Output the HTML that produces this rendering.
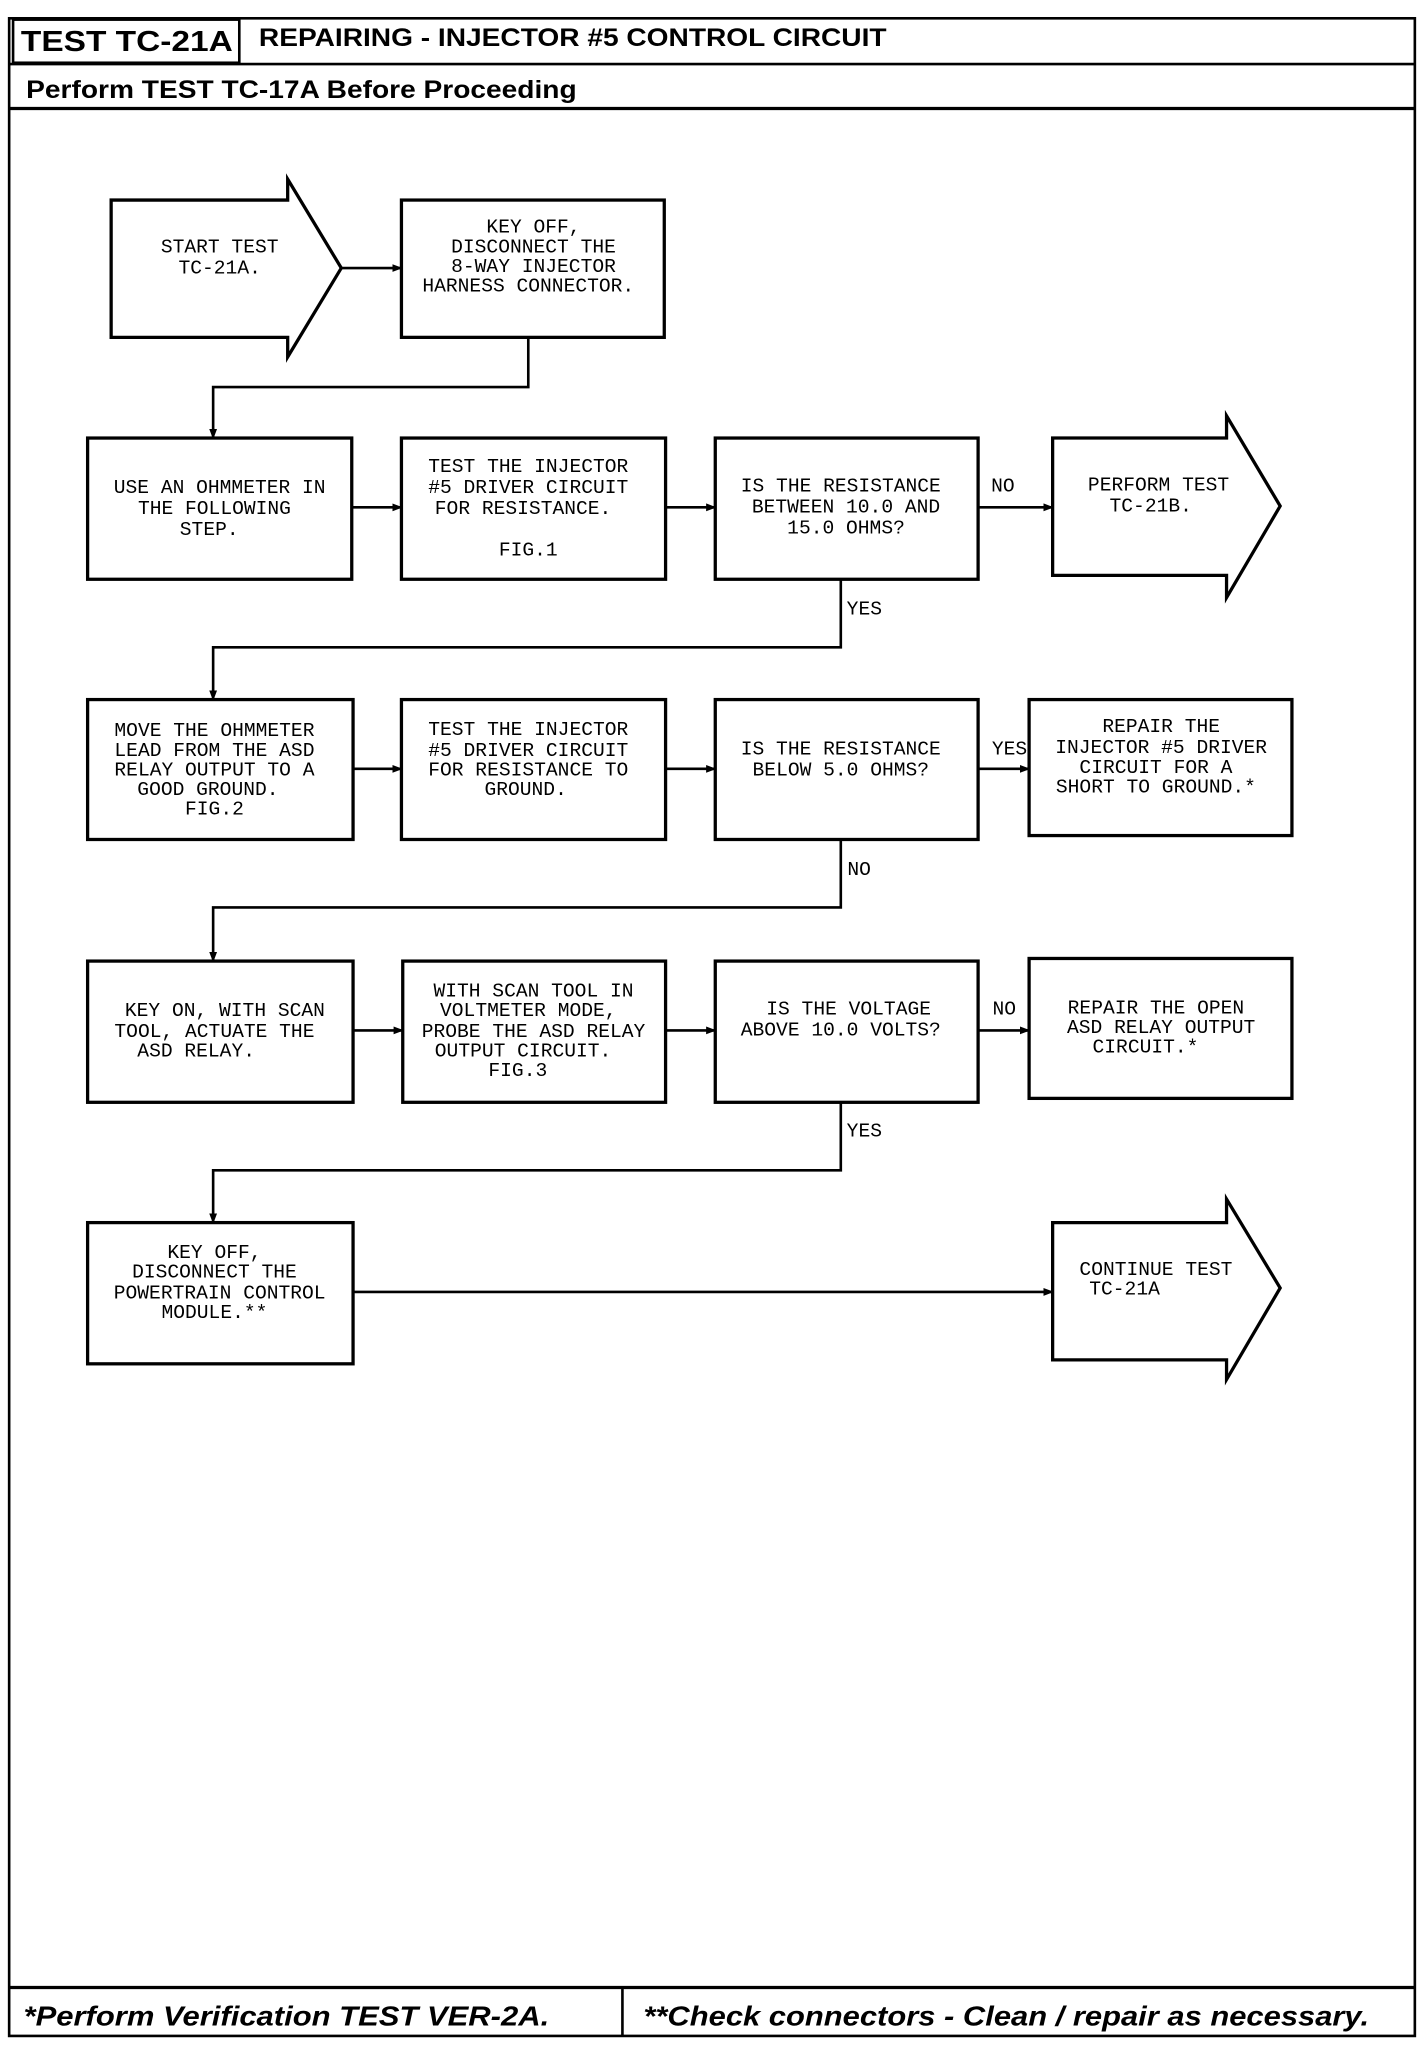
<!DOCTYPE html>
<html><head><meta charset="utf-8"><style>
html,body{margin:0;padding:0;background:#fff;}
svg{display:block;}
.t{font-family:"Liberation Mono",monospace;font-size:15px;fill:#000;text-anchor:middle;}
.h{font-family:"Liberation Sans",sans-serif;font-weight:bold;fill:#000;}
</style></head><body>
<svg width="1424" height="2046" viewBox="0 0 1089 1564.7" preserveAspectRatio="none" xmlns="http://www.w3.org/2000/svg">
<defs><marker id="a" markerWidth="8" markerHeight="8" refX="7" refY="4" orient="auto" markerUnits="userSpaceOnUse"><path d="M0,1 L8,4 L0,7z" fill="#000"/></marker></defs>
<g fill="none" stroke="#000" stroke-width="2">
<rect x="7" y="14" width="1075" height="1543"/>
<rect x="10" y="15" width="173" height="33"/>
<line x1="7" y1="49" x2="1082" y2="49"/>
<line x1="7" y1="83" x2="1082" y2="83" stroke-width="2.5"/>
<line x1="7" y1="1520" x2="1082" y2="1520" stroke-width="2.5"/>
<line x1="476" y1="1520" x2="476" y2="1557"/>
</g>
<text class="h" x="16" y="39" font-size="22" textLength="162" lengthAdjust="spacingAndGlyphs">TEST TC-21A</text>
<text class="h" x="198" y="35" font-size="19" textLength="480" lengthAdjust="spacingAndGlyphs">REPAIRING - INJECTOR #5 CONTROL CIRCUIT</text>
<text class="h" x="20" y="75" font-size="19" textLength="421" lengthAdjust="spacingAndGlyphs">Perform TEST TC-17A Before Proceeding</text>
<text class="h" x="18" y="1549" font-size="21" font-style="italic" textLength="402" lengthAdjust="spacingAndGlyphs">*Perform Verification TEST VER-2A.</text>
<text class="h" x="492" y="1549" font-size="21" font-style="italic" textLength="555" lengthAdjust="spacingAndGlyphs">**Check connectors - Clean / repair as necessary.</text>

<g fill="none" stroke="#000" stroke-width="2.5">
<path d="M85,153 H220 V137 L261,205 L220,273 V258 H85 Z"/>
<rect x="307" y="153" width="201" height="105"/>
<rect x="67" y="335" width="202" height="108"/>
<rect x="307" y="335" width="202" height="108"/>
<rect x="547" y="335" width="201" height="108"/>
<path d="M805,335 H938 V318 L979,387 L938,457 V440 H805 Z"/>
<rect x="67" y="535" width="203" height="107"/>
<rect x="307" y="535" width="202" height="107"/>
<rect x="547" y="535" width="201" height="107"/>
<rect x="787" y="535" width="201" height="104"/>
<rect x="67" y="735" width="203" height="108"/>
<rect x="308" y="735" width="201" height="108"/>
<rect x="547" y="735" width="201" height="108"/>
<rect x="787" y="733" width="201" height="107"/>
<rect x="67" y="935" width="203" height="108"/>
<path d="M805,935 H938 V917 L979,985 L938,1055 V1040 H805 Z"/>
</g>
<g fill="none" stroke="#000" stroke-width="2" marker-end="url(#a)">
<line x1="261" y1="205" x2="307" y2="205"/>
<path d="M404,258 V296 H163 V335"/>
<line x1="269" y1="388" x2="307" y2="388"/>
<line x1="509" y1="388" x2="547" y2="388"/>
<line x1="748" y1="388" x2="805" y2="388"/>
<path d="M643,443 V495 H163 V535"/>
<line x1="270" y1="588" x2="307" y2="588"/>
<line x1="509" y1="588" x2="547" y2="588"/>
<line x1="748" y1="588" x2="787" y2="588"/>
<path d="M643,642 V694 H163 V735"/>
<line x1="270" y1="788" x2="308" y2="788"/>
<line x1="509" y1="788" x2="547" y2="788"/>
<line x1="748" y1="788" x2="787" y2="788"/>
<path d="M643,843 V895 H163 V935"/>
<line x1="270" y1="988" x2="805" y2="988"/>
</g>
<g class="t">
<text x="168" y="193">START TEST</text><text x="168" y="209">TC-21A.</text>
<text x="408" y="178">KEY OFF,</text><text x="408" y="193">DISCONNECT THE</text><text x="408" y="208">8-WAY INJECTOR</text><text x="404" y="223">HARNESS CONNECTOR.</text>
<text x="168" y="377">USE AN OHMMETER IN</text><text x="164" y="393">THE FOLLOWING</text><text x="160" y="409">STEP.</text>
<text x="404" y="361">TEST THE INJECTOR</text><text x="404" y="377">#5 DRIVER CIRCUIT</text><text x="400" y="393">FOR RESISTANCE.</text><text x="404" y="425">FIG.1</text>
<text x="643" y="376">IS THE RESISTANCE</text><text x="647" y="392">BETWEEN 10.0 AND</text><text x="647" y="408">15.0 OHMS?</text>
<text x="767" y="376">NO</text>
<text x="886" y="375">PERFORM TEST</text><text x="880" y="391">TC-21B.</text>
<text x="661" y="470">YES</text>
<text x="164" y="563">MOVE THE OHMMETER</text><text x="164" y="578">LEAD FROM THE ASD</text><text x="164" y="593">RELAY OUTPUT TO A</text><text x="159" y="608">GOOD GROUND.</text><text x="164" y="623">FIG.2</text>
<text x="404" y="562">TEST THE INJECTOR</text><text x="404" y="578">#5 DRIVER CIRCUIT</text><text x="404" y="593">FOR RESISTANCE TO</text><text x="402" y="608">GROUND.</text>
<text x="643" y="577">IS THE RESISTANCE</text><text x="643" y="593">BELOW 5.0 OHMS?</text>
<text x="772" y="577">YES</text>
<text x="888" y="560">REPAIR THE</text><text x="888" y="576">INJECTOR #5 DRIVER</text><text x="884" y="591">CIRCUIT FOR A</text><text x="884" y="606">SHORT TO GROUND.*</text>
<text x="657" y="669">NO</text>
<text x="172" y="777">KEY ON, WITH SCAN</text><text x="164" y="793">TOOL, ACTUATE THE</text><text x="150" y="808">ASD RELAY.</text>
<text x="408" y="762">WITH SCAN TOOL IN</text><text x="404" y="777">VOLTMETER MODE,</text><text x="408" y="793">PROBE THE ASD RELAY</text><text x="400" y="808">OUTPUT CIRCUIT.</text><text x="396" y="823">FIG.3</text>
<text x="649" y="776">IS THE VOLTAGE</text><text x="643" y="792">ABOVE 10.0 VOLTS?</text>
<text x="768" y="776">NO</text>
<text x="884" y="775">REPAIR THE OPEN</text><text x="888" y="790">ASD RELAY OUTPUT</text><text x="876" y="805">CIRCUIT.*</text>
<text x="661" y="869">YES</text>
<text x="164" y="962">KEY OFF,</text><text x="164" y="977">DISCONNECT THE</text><text x="168" y="993">POWERTRAIN CONTROL</text><text x="164" y="1008">MODULE.**</text>
<text x="884" y="975">CONTINUE TEST</text><text x="860" y="990">TC-21A</text>
</g>
</svg>
</body></html>
